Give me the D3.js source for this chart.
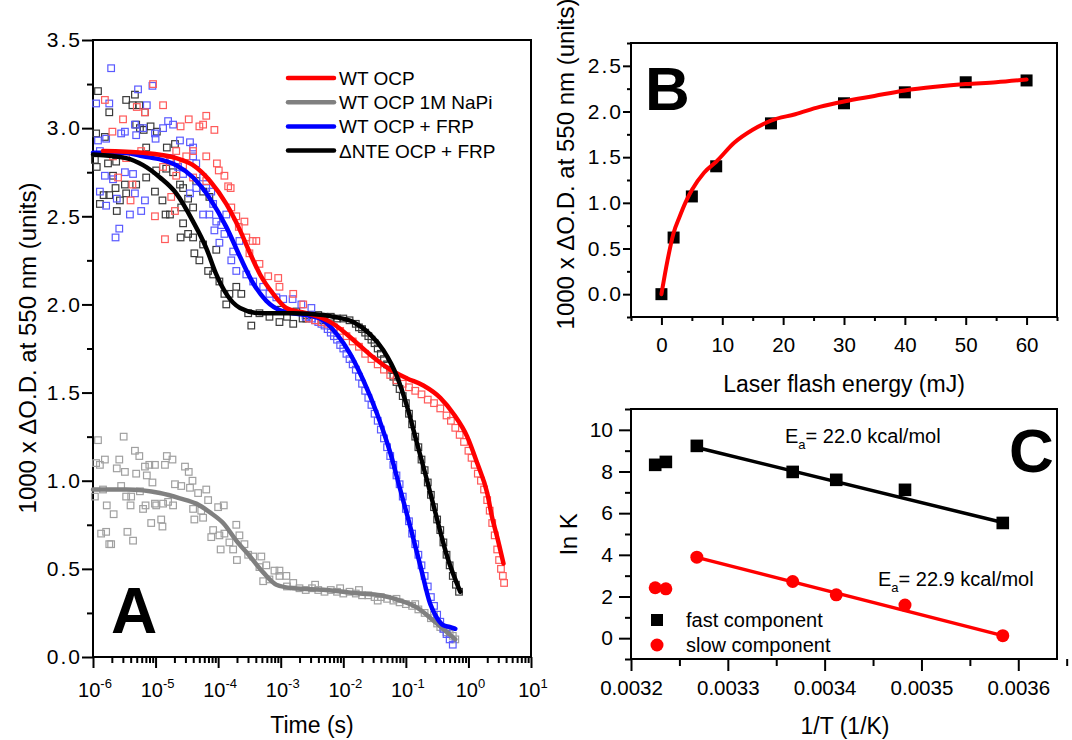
<!DOCTYPE html>
<html>
<head>
  <style>
    body { margin: 0; background: white; }
    text { font-family: "Liberation Sans", Arial, sans-serif; fill: black; }
  </style>
</head>
<body>
  <script src="https://d3js.org/d3.v7.min.js"></script>
  <script>
    var width = 1072, height = 740;
    var font = '"Liberation Sans", Arial, sans-serif';

    // ---------- panel A: [log10(t / s), 1000 x dOD]
    var seriesNames = ["WT OCP", "WT OCP 1M NaPi", "WT OCP + FRP", "\u0394NTE OCP + FRP"];
    var lineColors = ["#ff0000", "#808080", "#0000ff", "#000000"];
    var pointColors = ["#ff5a5a", "#a0a0a0", "#5a5aff", "#3a3a3a"];

    var wtFit = [[-5.84,2.87],[-5.2,2.86],[-4.67,2.83],[-4.4,2.79],[-4.13,2.7],[-3.87,2.57],[-3.65,2.42],[-3.49,2.29],
      [-3.33,2.17],[-3.12,2.06],[-2.91,1.98],[-2.59,1.95],[-2.32,1.92],[-2.16,1.89],[-1.78,1.78],[-1.52,1.7],[-1.25,1.63],
      [-0.98,1.58],[-0.72,1.54],[-0.45,1.47],[-0.24,1.38],[-0.02,1.25],[0.14,1.1],[0.3,0.93],[0.38,0.79],[0.46,0.68],[0.56,0.53]];
    var napiFit = [[-6,0.95],[-5.47,0.95],[-4.93,0.93],[-4.61,0.9],[-4.35,0.87],[-4.13,0.82],[-3.92,0.76],[-3.71,0.66],
      [-3.49,0.57],[-3.28,0.48],[-3.07,0.41],[-2.8,0.39],[-2.28,0.38],[-1.74,0.36],[-1.41,0.35],[-1.09,0.32],[-0.82,0.28],
      [-0.57,0.21],[-0.34,0.14],[-0.21,0.1]];
    var frpFit = [[-6,2.86],[-5.5,2.86],[-5.2,2.84],[-4.9,2.82],[-4.67,2.79],[-4.4,2.72],[-4.13,2.6],[-3.87,2.44],[-3.65,2.27],
      [-3.44,2.12],[-3.23,2.02],[-2.96,1.96],[-2.59,1.94],[-2.37,1.92],[-2.1,1.83],[-1.89,1.72],[-1.68,1.57],[-1.46,1.38],
      [-1.25,1.16],[-1.09,0.95],[-0.93,0.74],[-0.77,0.52],[-0.61,0.3],[-0.5,0.22],[-0.4,0.18],[-0.3,0.17],[-0.21,0.16]];
    var nteFit = [[-6,2.85],[-5.47,2.83],[-5.2,2.79],[-4.93,2.72],[-4.67,2.63],[-4.4,2.47],[-4.19,2.32],[-4.03,2.17],
      [-3.87,2.06],[-3.65,1.98],[-3.33,1.95],[-2.8,1.95],[-2.32,1.94],[-2.16,1.93],[-1.84,1.9],[-1.57,1.83],[-1.36,1.74],
      [-1.14,1.59],[-0.98,1.42],[-0.82,1.21],[-0.66,1.0],[-0.5,0.78],[-0.34,0.57],[-0.13,0.37]];

    var wtPoints = [[-5.81,3.16],[-5.52,3.05],[-5.69,2.98],[-5.04,3.25],[-4.88,3.13],[-5.3,3.12],[-5.17,3.09],[-4.47,3.05],
      [-4.6,3.01],[-4.19,3.07],[-4.3,3.01],[-4.24,3.02],[-4.06,2.99],[-4.4,2.87],[-4.19,2.84],[-4.67,2.87],[-4.51,2.84],
      [-4.02,2.8],[-3.99,2.76],[-3.9,2.73],[-3.84,2.67],[-3.8,2.66],[-3.71,2.5],[-3.58,2.47],[-3.67,2.44],[-3.45,2.36],
      [-3.39,2.36],[-4.85,2.37],[-5.01,2.5],[-4.75,2.61],[-4.69,2.53],[-5.37,2.68],[-5.4,2.59],[-5.6,2.72],[-4.88,2.78],
      [-4.67,2.73],[-4.4,2.72],[-4.19,2.7],[-4.77,2.81],[-4.56,2.79],[-3.5,2.29],[-3.34,2.23],[-3.2,2.16],[-3.04,2.15],
      [-3.02,2.1],[-2.8,2.06],[-2.64,2.0],[-3.79,2.55],[-3.55,2.38],[-5.23,2.87],[-5.47,2.83],[-5.68,2.84],
      [-2.55,1.92],[-2.45,1.91],[-2.35,1.9],[-2.25,1.89],[-2.15,1.87],[-2.05,1.85],[-1.95,1.82],[-1.85,1.79],[-1.75,1.76],
      [-1.65,1.72],[-1.55,1.69],[-1.45,1.66],[-1.35,1.63],[-1.25,1.6],[-1.15,1.57],[-1.05,1.55],[-0.95,1.53],[-0.85,1.51],
      [-0.75,1.49],[-0.65,1.46],[-0.55,1.44],[-0.45,1.41],[-0.35,1.37],[-0.28,1.34],[-0.21,1.3],[-0.14,1.26],[-0.07,1.22],
      [0.0,1.17],[0.05,1.13],[0.1,1.09],[0.15,1.04],[0.2,1.0],[0.25,0.95],[0.3,0.89],[0.34,0.83],[0.38,0.76],[0.42,0.69],
      [0.46,0.61],[0.49,0.55],[0.52,0.5],[0.55,0.46],[0.57,0.42]];
    var napiPoints = [[-5.92,1.23],[-5.51,1.25],[-5.95,1.1],[-5.89,1.09],[-5.81,1.12],[-5.58,1.12],[-5.62,1.07],[-5.49,1.05],
      [-5.33,1.17],[-5.26,1.14],[-5.31,1.04],[-5.17,1.08],[-5.14,1.03],[-5.1,1.09],[-5.01,1.09],[-5.05,0.99],[-4.85,1.09],
      [-4.82,1.14],[-4.73,1.12],[-5.55,0.97],[-5.97,0.91],[-5.84,0.95],[-5.47,0.91],[-5.39,0.91],[-5.25,0.94],[-5.78,0.86],
      [-5.67,0.81],[-5.4,0.86],[-5.2,0.84],[-5.16,0.86],[-5.01,0.87],[-4.99,0.86],[-4.88,0.87],[-4.8,0.88],[-4.72,0.86],
      [-4.69,0.98],[-4.59,0.97],[-4.53,1.08],[-4.47,1.05],[-4.41,1.0],[-4.45,0.96],[-4.32,0.93],[-4.19,0.95],[-4.16,0.89],
      [-4.4,0.84],[-4.27,0.83],[-4.38,0.78],[-4.24,0.79],[-4.0,0.85],[-3.91,0.86],[-5.87,0.7],[-5.79,0.71],[-5.74,0.64],
      [-5.71,0.64],[-5.45,0.71],[-5.36,0.66],[-5.07,0.76],[-4.91,0.78],[-4.89,0.74],[-4.08,0.72],[-4.11,0.68],[-3.98,0.69],
      [-3.9,0.7],[-3.96,0.61],[-3.82,0.65],[-3.71,0.75],[-3.66,0.69],[-3.76,0.61],[-3.7,0.55],[-3.58,0.64],[-3.52,0.58],
      [-3.44,0.57],[-3.31,0.57],[-3.34,0.51],[-3.23,0.52],[-3.1,0.49],[-3.02,0.49],[-3.28,0.43],[-3.18,0.44],[-3.02,0.46],
      [-2.91,0.46],[-2.8,0.42],[-2.9,0.4],[-2.7,0.39],[-2.6,0.38],[-2.5,0.39],[-2.4,0.38],[-2.3,0.37],[-2.2,0.38],[-2.1,0.37],
      [-2.0,0.36],[-1.9,0.37],[-1.8,0.36],[-1.7,0.35],[-1.6,0.35],[-1.5,0.34],[-1.4,0.34],[-1.3,0.33],[-1.2,0.32],[-1.1,0.31],
      [-1.0,0.3],[-0.9,0.29],[-0.8,0.27],[-0.7,0.25],[-0.6,0.22],[-0.5,0.19],[-0.45,0.17],[-0.4,0.16],[-0.35,0.14],
      [-0.3,0.13],[-0.25,0.12],[-0.21,0.1],
      [-2.45,0.41],[-2.05,0.39],[-1.75,0.38],[-1.45,0.32],[-1.15,0.33],[-0.85,0.3],[-0.55,0.24]];
    var frpPoints = [[-5.71,3.34],[-5.95,3.14],[-5.74,3.14],[-5.28,3.22],[-5.05,3.24],[-5.14,3.13],[-5.92,2.93],[-5.79,2.94],
      [-5.89,2.87],[-5.55,2.97],[-5.49,2.98],[-5.33,3.02],[-5.2,3.0],[-5.31,2.96],[-5.0,2.94],[-4.88,3.0],[-4.8,3.04],
      [-4.72,3.02],[-5.01,2.97],[-4.61,2.93],[-4.45,2.92],[-4.4,2.89],[-5.81,2.73],[-5.68,2.71],[-5.49,2.75],[-5.36,2.74],
      [-5.89,2.64],[-5.79,2.56],[-5.62,2.6],[-5.41,2.51],[-5.23,2.53],[-5.33,2.63],[-5.17,2.59],[-5.58,2.43],[-5.64,2.38],
      [-4.75,2.83],[-4.64,2.78],[-4.56,2.74],[-4.4,2.84],[-4.35,2.8],[-4.24,2.72],[-4.19,2.66],[-4.11,2.64],[-4.35,2.66],
      [-4.45,2.63],[-4.24,2.51],[-4.14,2.51],[-4.03,2.47],[-4.06,2.42],[-3.95,2.45],[-3.98,2.35],[-3.76,2.3],[-3.79,2.25],
      [-3.71,2.19],[-3.55,2.17],[-3.44,2.13],[-3.28,2.1],[-3.18,2.06],[-3.07,2.04],[-2.96,2.03],[-2.81,2.03],[-2.67,2.0],
      [-2.51,1.98],[-3.66,2.36],[-3.87,2.51],[-3.9,2.4],[-4.08,2.57],
      [-2.6,1.93],[-2.55,1.93],[-2.5,1.92],[-2.45,1.91],[-2.4,1.9],[-2.35,1.89],[-2.3,1.88],[-2.25,1.86],[-2.2,1.84],
      [-2.15,1.82],[-2.1,1.8],[-2.05,1.77],[-2.0,1.75],[-1.95,1.72],[-1.9,1.69],[-1.85,1.66],[-1.8,1.63],[-1.75,1.59],
      [-1.7,1.55],[-1.65,1.51],[-1.6,1.47],[-1.55,1.43],[-1.5,1.38],[-1.45,1.34],[-1.4,1.29],[-1.35,1.24],[-1.3,1.19],
      [-1.25,1.14],[-1.2,1.09],[-1.15,1.03],[-1.1,0.98],[-1.05,0.91],[-1.0,0.84],[-0.95,0.77],[-0.9,0.7],[-0.85,0.64],
      [-0.8,0.58],[-0.75,0.52],[-0.7,0.46],[-0.65,0.4],[-0.6,0.34],[-0.55,0.29],[-0.5,0.24],[-0.45,0.2],[-0.4,0.16],
      [-0.35,0.13],[-0.3,0.1],[-0.25,0.07]];
    var ntePoints = [[-5.92,3.21],[-5.47,3.16],[-5.33,3.19],[-5.74,3.09],[-5.37,3.13],[-5.26,3.13],[-5.17,3.09],[-5.95,2.97],
      [-5.81,2.95],[-5.31,3.02],[-5.25,3.0],[-5.19,2.99],[-5.08,3.01],[-4.98,2.98],[-5.15,2.89],[-4.82,2.89],[-4.69,2.91],
      [-5.97,2.82],[-5.94,2.78],[-5.76,2.8],[-5.63,2.81],[-5.68,2.73],[-5.83,2.62],[-5.74,2.62],[-5.89,2.57],[-5.64,2.66],
      [-5.49,2.68],[-5.57,2.59],[-5.47,2.63],[-5.62,2.53],[-5.31,2.68],[-5.15,2.72],[-5.01,2.64],[-4.89,2.59],[-4.99,2.76],
      [-4.83,2.77],[-4.72,2.75],[-4.61,2.68],[-4.77,2.51],[-4.84,2.51],[-4.56,2.66],[-4.48,2.6],[-4.59,2.55],[-4.56,2.46],
      [-4.6,2.38],[-4.48,2.4],[-4.4,2.38],[-4.38,2.29],[-4.3,2.25],[-4.16,2.19],[-4.24,2.34],[-4.03,2.31],[-4.08,2.17],
      [-3.98,2.13],[-3.9,2.06],[-3.87,2.0],[-3.82,2.06],[-3.71,2.1],[-3.63,2.06],[-3.52,1.95],[-3.47,1.88],[-3.34,1.95],
      [-3.18,1.93],[-3.02,1.9],[-2.8,1.89],[-2.59,1.92],[-2.32,1.91],[-4.35,2.7],[-4.24,2.64],[-4.14,2.61],[-4.4,2.55],
      [-3.0,1.97],[-2.9,1.93],[-2.75,1.96],[-2.65,1.92],
      [-2.6,1.94],[-2.5,1.94],[-2.4,1.94],[-2.3,1.93],[-2.2,1.93],[-2.1,1.92],[-2.0,1.92],[-1.9,1.91],[-1.8,1.89],
      [-1.75,1.87],[-1.7,1.86],[-1.65,1.84],[-1.6,1.82],[-1.55,1.8],[-1.5,1.78],[-1.45,1.75],[-1.4,1.72],[-1.35,1.69],
      [-1.3,1.66],[-1.25,1.63],[-1.2,1.59],[-1.15,1.56],[-1.1,1.52],[-1.05,1.48],[-1.0,1.44],[-0.95,1.38],[-0.9,1.32],
      [-0.85,1.25],[-0.8,1.19],[-0.75,1.12],[-0.7,1.06],[-0.65,0.99],[-0.6,0.92],[-0.55,0.85],[-0.5,0.78],[-0.45,0.72],
      [-0.4,0.65],[-0.35,0.58],[-0.3,0.52],[-0.25,0.46],[-0.2,0.41],[-0.15,0.37]];

    var decades = [-6, -5, -4, -3, -2, -1, 0, 1];

    // ---------- panel B: laser flash energy
    var energy = [0, 2, 5, 9, 18, 30, 40, 50, 60];
    var amplitude = [0, 0.62, 1.07, 1.40, 1.87, 2.09, 2.21, 2.32, 2.34];
    var fitEnergy = [0, 1, 2, 3, 4, 5, 7, 9, 12, 15, 18, 22, 26, 30, 35, 40, 45, 50, 55, 60];
    var fitAmplitude = [0, 0.37, 0.67, 0.85, 1.01, 1.14, 1.33, 1.45, 1.66, 1.8, 1.9, 1.97, 2.05, 2.11, 2.17, 2.23, 2.27, 2.3, 2.32, 2.35];

    // ---------- panel C: Arrhenius plot
    var invT = [0.003225, 0.003236, 0.003268, 0.003367, 0.003412, 0.003483, 0.003584];
    var lnKfast = [8.32, 8.46, 9.23, 7.98, 7.6, 7.12, 5.53];
    var lnKslow = [2.42, 2.37, 3.89, 2.72, 2.08, 1.59, 0.12];
    var fastLine = [[0.003268, 9.15], [0.003584, 5.55]];
    var slowLine = [[0.003268, 3.88], [0.003584, 0.12]];

    var svg = d3.select("body").append("svg").attr("width", width).attr("height", height);

    function frame(x0, x1, y0, y1) {
      svg.append("rect").attr("x", x0).attr("y", y0).attr("width", x1 - x0).attr("height", y1 - y0)
        .attr("fill", "none").attr("stroke", "black").attr("stroke-width", 2);
    }

    function styleAxis(g, size) {
      g.attr("font-family", font).attr("font-size", size);
      g.select(".domain").remove();
      g.selectAll("line").attr("stroke", "black").attr("stroke-width", 2);
    }

    // the original labels have a little extra room round the decimal point
    function spreadDot(g) {
      g.selectAll(".tick text").each(function() {
        var t = d3.select(this), parts = t.text().split(".");
        t.text(null);
        t.append("tspan").text(parts[0]);
        t.append("tspan").attr("dx", 2).text(".");
        t.append("tspan").attr("dx", 2).text(parts[1]);
      });
    }

    function splitTicks(domain, step, minorStep) {
      var major = [], minor = [];
      var n = Math.round((domain[1] - domain[0]) / minorStep);
      for (var i = 0; i <= n; i++) {
        var v = domain[0] + i * minorStep;
        if (Math.abs(v / step - Math.round(v / step)) < 1e-6) major.push(v); else minor.push(v);
      }
      return [major, minor];
    }

    // ================= Panel A =================
    var xA = d3.scaleLog().domain([1e-6, 10]).range([93, 531]);
    var yA = d3.scaleLinear().domain([0, 3.5]).range([657, 40]);
    var pA = function(d) { return [xA(Math.pow(10, d[0])), yA(d[1])]; };

    var minorA = xA.ticks().filter(function(t) { return Math.abs(Math.log10(t) - Math.round(Math.log10(t))) > 1e-6; });
    var gx = svg.append("g").attr("transform", "translate(0,657)")
      .call(d3.axisBottom(xA).tickValues(minorA).tickSize(6).tickFormat(""));
    styleAxis(gx, 20);
    gx = svg.append("g").attr("transform", "translate(0,657)")
      .call(d3.axisBottom(xA).tickValues(decades.map(function(e) { return Math.pow(10, e); })).tickSize(11).tickFormat(""));
    styleAxis(gx, 20);
    decades.forEach(function(e) {
      var t = svg.append("text").attr("x", xA(Math.pow(10, e)) + 2).attr("y", 697)
        .attr("text-anchor", "middle").attr("font-size", 20);
      t.append("tspan").text("10");
      t.append("tspan").attr("font-size", 13).attr("dy", -9).text(e < 0 ? "-" + (-e) : e);
    });

    var yTicksA = splitTicks([0, 3.5], 0.5, 0.25);
    var gy = svg.append("g").attr("transform", "translate(93,0)")
      .call(d3.axisLeft(yA).tickValues(yTicksA[1]).tickSize(6).tickFormat(""));
    styleAxis(gy, 20);
    gy = svg.append("g").attr("transform", "translate(93,0)")
      .call(d3.axisLeft(yA).tickValues(yTicksA[0]).tickSize(11).tickPadding(2).tickFormat(d3.format(".1f")));
    styleAxis(gy, 21);
    spreadDot(gy);
    frame(93, 531, 40, 657);

    var scatterData = [wtPoints, napiPoints, frpPoints, ntePoints];
    var fitData = [wtFit, napiFit, frpFit, nteFit];
    [1, 3, 2, 0].forEach(function(i) {
      svg.append("g").selectAll("rect").data(scatterData[i]).enter().append("rect")
        .attr("x", function(d) { return pA(d)[0] - 3.3; })
        .attr("y", function(d) { return pA(d)[1] - 3.3; })
        .attr("width", 6.6).attr("height", 6.6)
        .attr("fill", "none").attr("stroke", pointColors[i]).attr("stroke-width", 1.2);
    });
    var lineA = d3.line().x(function(d) { return pA(d)[0]; }).y(function(d) { return pA(d)[1]; }).curve(d3.curveMonotoneX);
    [1, 2, 0, 3].forEach(function(i) {
      svg.append("path").attr("d", lineA(fitData[i])).attr("fill", "none")
        .attr("stroke", lineColors[i]).attr("stroke-width", 4.5).attr("stroke-linecap", "round");
    });

    // legend A
    seriesNames.forEach(function(name, i) {
      var y = 78 + i * 24.2;
      svg.append("line").attr("x1", 288).attr("x2", 334).attr("y1", y).attr("y2", y)
        .attr("stroke", lineColors[i]).attr("stroke-width", 4.5).attr("stroke-linecap", "round");
      svg.append("text").attr("x", 339).attr("y", y + 7).attr("font-size", 19).text(name);
    });

    svg.append("text").attr("x", 312).attr("y", 733).attr("text-anchor", "middle").attr("font-size", 23).text("Time (s)");
    svg.append("text").attr("transform", "translate(36,348) rotate(-90)").attr("text-anchor", "middle")
      .attr("font-size", 24).text("1000 x \u0394O.D. at 550 nm (units)");
    svg.append("text").attr("x", 111).attr("y", 633).attr("font-size", 64).attr("font-weight", "bold").text("A");

    // ================= Panel B =================
    var xB = d3.scaleLinear().domain([-5, 65]).range([631, 1057]);
    var yB = d3.scaleLinear().domain([-0.25, 2.75]).range([317, 43]);
    var xTicksB = splitTicks([-5, 65], 10, 5);
    var yTicksB = splitTicks([-0.25, 2.75], 0.5, 0.25);
    var g = svg.append("g").attr("transform", "translate(0,317)")
      .call(d3.axisBottom(xB).tickValues(xTicksB[1]).tickSize(4).tickFormat(""));
    styleAxis(g, 20);
    g = svg.append("g").attr("transform", "translate(0,317)")
      .call(d3.axisBottom(xB).tickValues(xTicksB[0]).tickSize(8).tickPadding(12).tickFormat(d3.format("d")));
    styleAxis(g, 20.5);
    g = svg.append("g").attr("transform", "translate(631,0)")
      .call(d3.axisLeft(yB).tickValues(yTicksB[1]).tickSize(4).tickFormat(""));
    styleAxis(g, 20);
    g = svg.append("g").attr("transform", "translate(631,0)")
      .call(d3.axisLeft(yB).tickValues(yTicksB[0]).tickSize(8).tickPadding(2).tickFormat(d3.format(".1f")));
    styleAxis(g, 21);
    spreadDot(g);
    frame(631, 1057, 43, 317);

    svg.append("g").selectAll("rect").data(energy).enter().append("rect")
      .attr("x", function(d) { return xB(d) - 6; })
      .attr("y", function(d, i) { return yB(amplitude[i]) - 6; })
      .attr("width", 12).attr("height", 12).attr("fill", "black");
    var lineB = d3.line().x(function(d) { return xB(d); }).y(function(d, i) { return yB(fitAmplitude[i]); })
      .curve(d3.curveMonotoneX);
    svg.append("path").attr("d", lineB(fitEnergy)).attr("fill", "none").attr("stroke", "#ff0000")
      .attr("stroke-width", 4).attr("stroke-linecap", "round");

    svg.append("text").attr("x", 844).attr("y", 392).attr("text-anchor", "middle").attr("font-size", 23)
      .text("Laser flash energy (mJ)");
    svg.append("text").attr("transform", "translate(574,164) rotate(-90)").attr("text-anchor", "middle")
      .attr("font-size", 24).text("1000 x \u0394O.D. at 550 nm (units)");
    svg.append("text").attr("x", 645).attr("y", 110).attr("font-size", 62).attr("font-weight", "bold").text("B");

    // ================= Panel C =================
    var xC = d3.scaleLinear().domain([0.0032, 0.00364]).range([631, 1057]);
    var yC = d3.scaleLinear().domain([-1, 11]).range([659, 409]);
    var xTicksC = splitTicks([0.0032, 0.00364], 0.0001, 0.00005);
    var yTicksC = splitTicks([-1, 11], 2, 1);
    g = svg.append("g").attr("transform", "translate(0,659)")
      .call(d3.axisBottom(xC).tickValues(xTicksC[1]).tickSize(7).tickFormat(""));
    styleAxis(g, 20);
    g = svg.append("g").attr("transform", "translate(0,659)")
      .call(d3.axisBottom(xC).tickValues(xTicksC[0]).tickSize(12).tickPadding(9).tickFormat(d3.format(".4f")));
    styleAxis(g, 20.5);
    g = svg.append("g").attr("transform", "translate(631,0)")
      .call(d3.axisLeft(yC).tickValues(yTicksC[1]).tickSize(6).tickFormat(""));
    styleAxis(g, 20);
    g = svg.append("g").attr("transform", "translate(631,0)")
      .call(d3.axisLeft(yC).tickValues(yTicksC[0]).tickSize(12).tickPadding(6).tickFormat(d3.format("d")));
    styleAxis(g, 21);
    frame(631, 1057, 409, 659);

    var lineC = d3.line().x(function(d) { return xC(d[0]); }).y(function(d) { return yC(d[1]); });
    svg.append("path").attr("d", lineC(fastLine)).attr("stroke", "black").attr("stroke-width", 3.5).attr("fill", "none");
    svg.append("path").attr("d", lineC(slowLine)).attr("stroke", "#ff0000").attr("stroke-width", 3.5).attr("fill", "none");
    svg.append("g").selectAll("rect").data(invT).enter().append("rect")
      .attr("x", function(d) { return xC(d) - 6.3; })
      .attr("y", function(d, i) { return yC(lnKfast[i]) - 6.3; })
      .attr("width", 12.6).attr("height", 12.6).attr("fill", "black");
    svg.append("g").selectAll("circle").data(invT).enter().append("circle")
      .attr("cx", function(d) { return xC(d); })
      .attr("cy", function(d, i) { return yC(lnKslow[i]); })
      .attr("r", 6.5).attr("fill", "#ff0000");

    function eaLabel(x, y, value) {
      var t = svg.append("text").attr("x", x).attr("y", y).attr("font-size", 20);
      t.append("tspan").text("E");
      t.append("tspan").attr("font-size", 13).attr("dy", 6).text("a");
      t.append("tspan").attr("dy", -6).text("= " + value + " kcal/mol");
    }
    eaLabel(785, 443, "22.0");
    eaLabel(878, 586, "22.9");

    svg.append("rect").attr("x", 651).attr("y", 614).attr("width", 12).attr("height", 12).attr("fill", "black");
    svg.append("text").attr("x", 686).attr("y", 627).attr("font-size", 20).text("fast component");
    svg.append("circle").attr("cx", 657).attr("cy", 645).attr("r", 6.5).attr("fill", "#ff0000");
    svg.append("text").attr("x", 686).attr("y", 652).attr("font-size", 20).text("slow component");

    svg.append("text").attr("x", 845).attr("y", 734).attr("text-anchor", "middle").attr("font-size", 23).text("1/T (1/K)");
    svg.append("text").attr("transform", "translate(577,534) rotate(-90)").attr("text-anchor", "middle")
      .attr("font-size", 24).text("ln K");
    svg.append("text").attr("x", 1009).attr("y", 472).attr("font-size", 62).attr("font-weight", "bold").text("C");
  </script>
</body>
</html>
